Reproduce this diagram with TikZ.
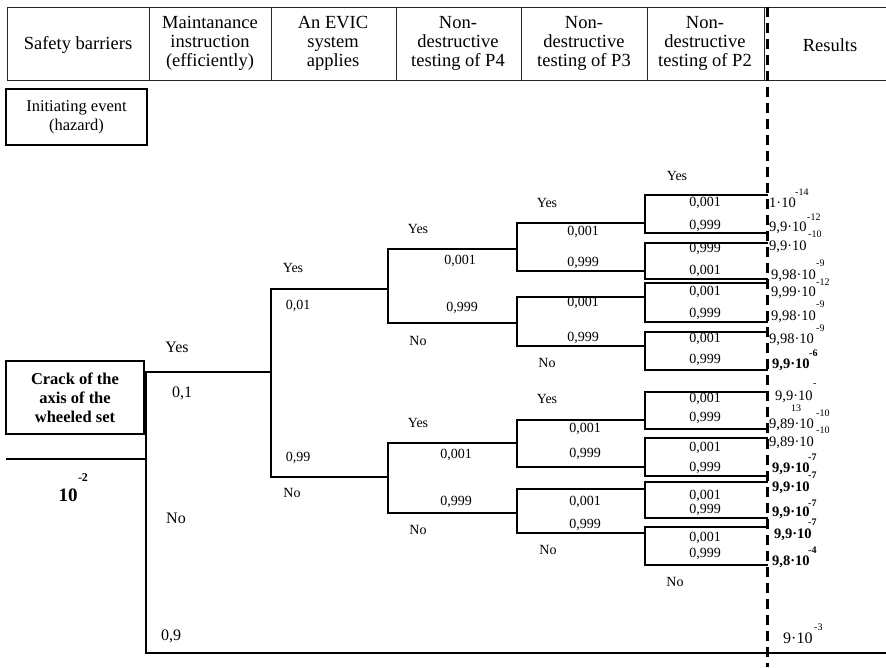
\documentclass[tikz,border=0pt]{standalone}
\usepackage{fontspec}
\setmainfont{Liberation Serif}
\usetikzlibrary{positioning}

\begin{document}
\begin{tikzpicture}[x=1pt, y=-1pt,
  hd/.style={font=\fontsize{18.5}{19}\selectfont, align=center, inner sep=0pt},
  evbox/.style={draw, line width=2.8pt, align=center, inner sep=0pt},
  br/.style={line width=2.4pt, line cap=rect},
  grid/.style={line width=1pt, color=black!85},
  lbl/.style={font=\fontsize{14}{16}\selectfont, inner sep=0pt},
  lbig/.style={font=\fontsize{16}{18}\selectfont, inner sep=0pt},
  res/.style={font=\fontsize{14.5}{16}\selectfont, anchor=west, inner sep=0pt},
  ex/.style={font=\fontsize{10}{11}\selectfont, anchor=west, inner sep=0pt},
]
\useasboundingbox (0,0) rectangle (886,667);

% header row
\draw[grid] (7,7) rectangle (764,80);
\foreach \x in {149,271,396,521,647} \draw[grid] (\x,7) -- (\x,80);
\draw[grid] (764,7) -- (886,7) (764,80) -- (886,80);
\node[hd] (hSafe) at (78,45) {Safety barriers};
\node[hd] (hMaint) at (210,43) {Maintanance\\instruction\\(efficiently)};
\node[hd] (hEvic) at (333,43) {An EVIC\\system\\applies};
\node[hd] (hP4) at (458,43) {Non-\\destructive\\testing of P4};
\node[hd] (hP3) at (584,43) {Non-\\destructive\\testing of P3};
\node[hd] (hP2) at (705,43) {Non-\\destructive\\testing of P2};
\node[hd] (hRes) at (830,45) {Results};

% initiating event
\node[evbox, minimum width=141pt, minimum height=56pt, font=\fontsize{16.5}{19}\selectfont] (init) at (76.5,117) {Initiating event\\(hazard)};
\node[evbox, minimum width=138pt, minimum height=73pt, font=\fontsize{16.5}{19}\selectfont\bfseries] (crack) at (75,397.5) {Crack of the\\axis of the\\wheeled set};
\coordinate (f0) at (6,459);
\coordinate (s1t) at (146,372);
\coordinate (s1b) at (146,653);
\draw[line width=2pt] (f0) -- (f0 -| s1t);
\node[font=\fontsize{19}{20}\selectfont\bfseries, inner sep=0pt] (freq) at (68,495) {10};
\node[font=\fontsize{12}{13}\selectfont\bfseries, inner sep=0pt] (freqx) at (83,478) {-2};

% tree: maintenance
\draw[br] (s1t) -- (s1b) -- (886,653);
\coordinate (s2t) at (271,289);
\coordinate (s2b) at (271,477);
\draw[br] (s1t) -- (s1t -| s2t);
\draw[br] (s2t) -- (s2b);
% EVIC
\coordinate (s3a) at (388,249); \coordinate (s3b) at (388,323);
\coordinate (s3c) at (388,443); \coordinate (s3d) at (388,513);
\draw[br] (s2t) -- (s2t -| s3a);
\draw[br] (s2b) -- (s2b -| s3a);
\draw[br] (s3a) -- (s3b);
\draw[br] (s3c) -- (s3d);
% P4
\foreach \yi/\yt/\yb in {249/223/271, 323/297/346, 443/420/467, 513/489/533}
  \draw[br] (388,\yi) -- (517,\yi) (517,\yt) -- (517,\yb);
% P3 and P2
\foreach \yi/\yt/\yb in {223/195/233, 271/243/279, 297/283/322, 346/332/370,
                         420/392/429, 467/438/476, 489/482/518, 533/527/565}
  \draw[br] (517,\yi) -- (645,\yi) (767,\yt) -- (645,\yt) -- (645,\yb) -- (767,\yb);

% branch labels
\node[lbig] (y1) at (177,347) {Yes};
\node[lbig] (p1) at (182,393) {0,1};
\node[lbig] (n1) at (176,518) {No};
\node[lbig] (q1) at (171,636) {0,9};
\node[lbl] (y2) at (293,268) {Yes};
\node[lbl] (p2) at (298,306) {0,01};
\node[lbl] (q2) at (298,458) {0,99};
\node[lbl] (n2) at (292,493) {No};
\foreach \x/\y [count=\i] in {418/229, 418/423, 547/203, 547/399, 677/176}
  \node[lbl] (yes\i) at (\x,\y) {Yes};
\foreach \x/\y [count=\i] in {418/341, 418/530, 547/363, 548/550, 675/582}
  \node[lbl] (no\i) at (\x,\y) {No};
\foreach \x/\y [count=\i] in {460/261, 456/455, 583/232, 583/303, 585/429, 585/502,
    705/203, 705/271, 705/292, 705/339, 705/399, 705/448, 705/496, 705/538}
  \node[lbl] (pa\i) at (\x,\y) {0,001};
\foreach \x/\y [count=\i] in {462/308, 456/502, 583/263, 583/338, 585/454, 585/525,
    705/226, 705/249, 705/314, 705/360, 705/418, 705/468, 705/510, 705/554}
  \node[lbl] (pb\i) at (\x,\y) {0,999};

% results
\foreach \t/\x/\y/\f [count=\i] in {{1·10}/769/203/\mdseries, {9,9·10}/769/228/\mdseries,
    {9,9·10}/769/247/\mdseries, {9,98·10}/771/276/\mdseries, {9,99·10}/771/293/\mdseries,
    {9,98·10}/771/317/\mdseries, {9,98·10}/769/340/\mdseries, {9,9·10}/772/365/\bfseries,
    {9,9·10}/775/397/\mdseries, {9,89·10}/769/425/\mdseries, {9,89·10}/769/443/\mdseries,
    {9,9·10}/772/469/\bfseries, {9,9·10}/772/488/\bfseries, {9,9·10}/772/513/\bfseries,
    {9,9·10}/774/535/\bfseries, {9,8·10}/772/562/\bfseries}
  \node[res] (r\i) at (\x,\y) {\f\t};
\foreach \t/\x/\y/\f [count=\i] in {-14/795/192/\mdseries, -12/807/217/\mdseries,
    -10/808/234/\mdseries, -9/816/263/\mdseries, -12/816/282/\mdseries, -9/816/304/\mdseries,
    -9/816/328/\mdseries, -6/809/353/\bfseries, -/813/385/\mdseries, 13/791/408/\mdseries,
    -10/816/413/\mdseries, -10/816/430/\mdseries, -7/808/457/\bfseries, -7/808/475/\bfseries,
    -7/808/503/\bfseries, -7/808/522/\bfseries, -4/808/550/\bfseries, -3/814/627/\mdseries}
  \node[ex] (x\i) at (\x,\y) {\f\t};
\node[res, font=\fontsize{16}{18}\selectfont] (rLast) at (783,638) {9·10};

% results boundary
\draw[line width=3pt, dash pattern=on 10pt off 6pt] (767,7) -- (767,667);
\end{tikzpicture}
\end{document}
